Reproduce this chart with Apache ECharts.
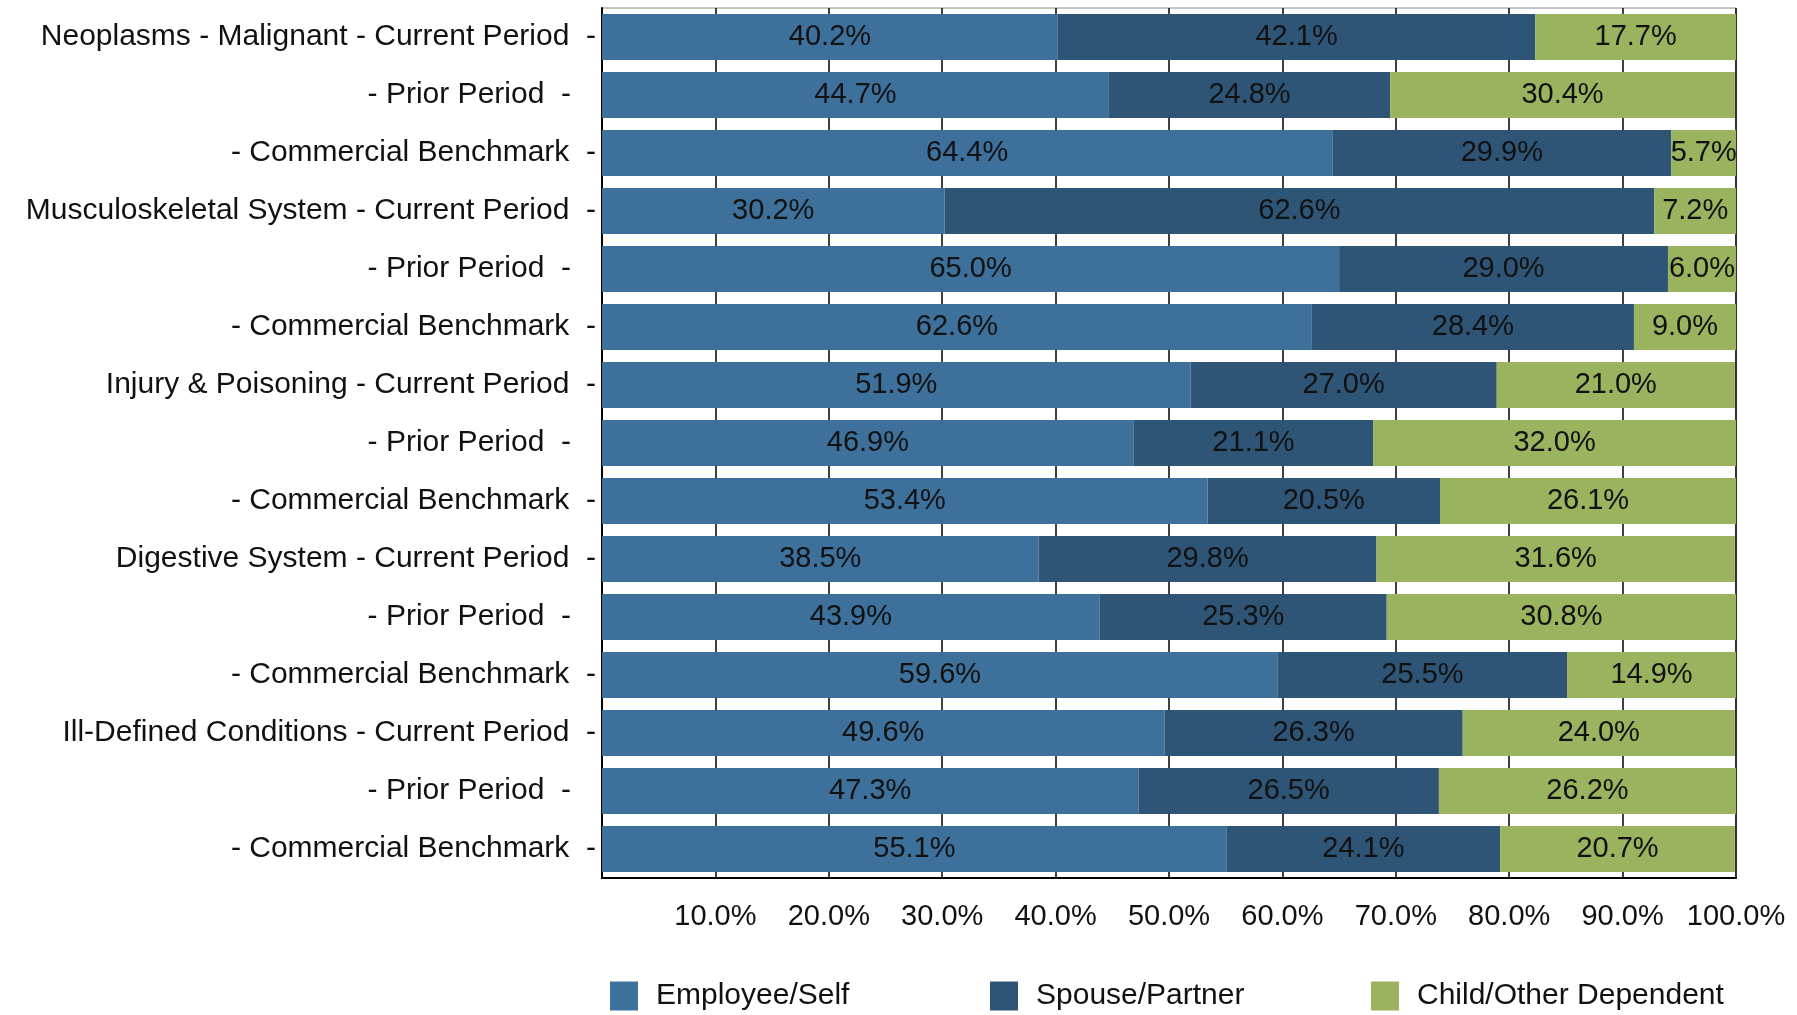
<!DOCTYPE html>
<html>
<head>
<meta charset="utf-8">
<script src="https://cdn.jsdelivr.net/npm/echarts@6/dist/echarts.min.js"></script>
<style>
  html, body { margin: 0; padding: 0; background: #fff; }
  #chart { width: 1797px; height: 1015px; }
</style>
</head>
<body>
<div id="chart"></div>
<script>
  var categories = [
    'Neoplasms - Malignant - Current Period  -',
    '- Prior Period  -   ',
    '- Commercial Benchmark  -',
    'Musculoskeletal System - Current Period  -',
    '- Prior Period  -   ',
    '- Commercial Benchmark  -',
    'Injury & Poisoning - Current Period  -',
    '- Prior Period  -   ',
    '- Commercial Benchmark  -',
    'Digestive System - Current Period  -',
    '- Prior Period  -   ',
    '- Commercial Benchmark  -',
    'Ill-Defined Conditions - Current Period  -',
    '- Prior Period  -   ',
    '- Commercial Benchmark  -'
  ];
  var employee = [40.2, 44.7, 64.4, 30.2, 65.0, 62.6, 51.9, 46.9, 53.4, 38.5, 43.9, 59.6, 49.6, 47.3, 55.1];
  var spouse = [42.1, 24.8, 29.9, 62.6, 29.0, 28.4, 27.0, 21.1, 20.5, 29.8, 25.3, 25.5, 26.3, 26.5, 24.1];
  var child = [17.7, 30.4, 5.7, 7.2, 6.0, 9.0, 21.0, 32.0, 26.1, 31.6, 30.8, 14.9, 24.0, 26.2, 20.7];
  var seriesNames = ['Employee/Self', 'Spouse/Partner', 'Child/Other Dependent'];
  var colors = ['#3e709c', '#2e5476', '#9ab35f'];

  var font = 'Liberation Sans, Arial, sans-serif';

  function barSeries(name, data, color) {
    return {
      name: name,
      type: 'bar',
      stack: 'total',
      barCategoryGap: '21%',
      data: data,
      itemStyle: { color: color },
      label: {
        show: true,
        position: 'inside',
        color: '#111',
        fontFamily: font,
        fontSize: 29,
        formatter: function (p) { return p.value.toFixed(1) + '%'; }
      }
    };
  }

  var legendLeft = [605, 985, 1366];

  var option = {
    backgroundColor: '#fff',
    animation: false,
    color: colors,
    grid: {
      left: 602,
      right: 61,
      top: 8,
      bottom: 137,
      show: true,
      borderColor: '#888',
      borderWidth: 1
    },
    legend: seriesNames.map(function (n, i) {
      return {
        data: [n],
        left: legendLeft[i],
        top: 976,
        itemWidth: 28,
        itemHeight: 29,
        itemGap: 10,
        icon: 'rect',
        textStyle: { fontFamily: font, fontSize: 30, color: '#111', padding: [0, 0, 0, 13] }
      };
    }),
    xAxis: {
      type: 'value',
      min: 0,
      max: 100,
      interval: 10,
      axisLine: { show: true, lineStyle: { color: '#000', width: 2 } },
      axisTick: { show: false },
      splitLine: { show: true, lineStyle: { color: '#000', width: 1.5 } },
      axisLabel: {
        margin: 24,
        color: '#111',
        fontFamily: font,
        fontSize: 29,
        formatter: function (v) { return v === 0 ? '' : v.toFixed(1) + '%'; }
      }
    },
    yAxis: {
      type: 'category',
      inverse: true,
      data: categories,
      axisLine: { show: true, lineStyle: { color: '#000', width: 2 } },
      axisTick: { show: false },
      axisLabel: {
        margin: 6,
        color: '#111',
        fontFamily: font,
        fontSize: 30
      }
    },
    series: [
      barSeries(seriesNames[0], employee, colors[0]),
      barSeries(seriesNames[1], spouse, colors[1]),
      barSeries(seriesNames[2], child, colors[2])
    ]
  };

  var chart = echarts.init(document.getElementById('chart'));
  chart.setOption(option);
</script>
</body>
</html>
